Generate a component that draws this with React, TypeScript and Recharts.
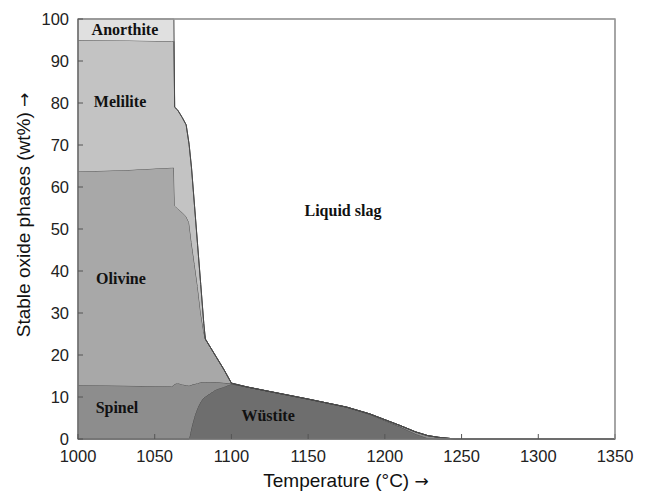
import {
  AreaChart,
  Area,
  XAxis,
  YAxis,
  ReferenceDot,
  ReferenceArea,
} from "recharts";

// temperature grid (°C)
const temps = [
  1000, 1030, 1061, 1062.5, 1063, 1065, 1068, 1070.5, 1072.4, 1074, 1076, 1078,
  1080, 1082, 1083, 1090, 1095, 1100, 1110, 1125, 1150, 1175, 1190, 1200, 1210,
  1220, 1228, 1235, 1246, 1350,
];

// wt% of each stable oxide phase at the temperatures above
const wustite = [
  0, 0, 0, 0, 0, 0, 0, 0, 0, 2.8, 5.5, 7.5, 8.9, 9.8, 10.1, 11.8, 12.4, 13.1,
  12.4, 11.3, 9.5, 7.6, 5.9, 4.4, 2.9, 1.2, 0.2, 0, 0, 0,
];
const spinel = [
  12.8, 12.7, 12.5, 12.9, 13.1, 13.3, 13.0, 12.8, 12.7, 10.1, 7.6, 5.8, 4.6, 3.8,
  3.5, 1.7, 1.0, 0.1, 0, 0, 0, 0, 0.1, 0.2, 0.3, 0.5, 0.6, 0.4, 0, 0,
];
const olivine = [
  50.9, 51.3, 52.1, 51.7, 42.4, 41.6, 40.9, 40.2, 38.8, 33.9, 28.5, 23.0, 16.5,
  11.9, 10.2, 6.1, 3.2, 0.1, 0, 0, 0, 0, 0, 0, 0, 0, 0, 0, 0, 0,
];
const melilite = [
  31.3, 30.9, 30.1, 30.1, 23.5, 23.4, 22.6, 21.8, 18.7, 17.7, 13.7, 9.7, 6.8,
  2.0, 0, 0, 0, 0, 0, 0, 0, 0, 0, 0, 0, 0, 0, 0, 0, 0,
];
const anorthite = [
  5.0, 5.1, 5.3, 5.3, 0, 0, 0, 0, 0, 0, 0, 0, 0, 0, 0, 0, 0, 0, 0, 0, 0, 0, 0,
  0, 0, 0, 0, 0, 0, 0,
];

const xTicks = [1000, 1050, 1100, 1150, 1200, 1250, 1300, 1350];
const yTicks = [0, 10, 20, 30, 40, 50, 60, 70, 80, 90, 100];

const data = temps.map((t, i) => ({
  t,
  wustite: wustite[i],
  spinel: spinel[i],
  olivine: olivine[i],
  melilite: melilite[i],
  anorthite: anorthite[i],
}));

const sans = "'Liberation Sans', Arial, sans-serif";
const serif = "'Liberation Serif', 'Times New Roman', serif";
const arrowFont = "'DejaVu Sans', sans-serif";
const edge = "#4a4a4a";

const phaseLabel = (value: string) => ({
  value,
  position: "center" as const,
  fill: "#111",
  fontSize: 16,
  fontWeight: 700,
  fontFamily: serif,
});

const labels = [
  { name: "Anorthite", x: 1030.6, y: 97.6 },
  { name: "Melilite", x: 1027.4, y: 80.5 },
  { name: "Olivine", x: 1028, y: 38.2 },
  { name: "Spinel", x: 1025.4, y: 7.6 },
  { name: "Wüstite", x: 1123.9, y: 5.7 },
  { name: "Liquid slag", x: 1172.7, y: 54.4 },
];

export default function App() {
  return (
    <div style={{ position: "absolute", left: 0, top: 0, background: "#fff" }}>
      <AreaChart
        width={649}
        height={491}
        data={data}
        margin={{ top: 18, right: 33, bottom: 0, left: 30 }}
      >
        <XAxis
          dataKey="t"
          type="number"
          domain={[1000, 1350]}
          ticks={xTicks}
          allowDataOverflow
          height={52}
          tickSize={-5}
          tickMargin={16}
          stroke="#555"
          tick={{ fill: "#222", fontSize: 16.5, fontFamily: sans }}
          label={() => (
            <text
              x={346}
              y={487}
              textAnchor="middle"
              fill="#111"
              fontSize={19}
              fontFamily={sans}
            >
              Temperature (°C){" "}
              <tspan fontFamily={arrowFont} fontSize={17}>
                →
              </tspan>
            </text>
          )}
        />
        <XAxis
          xAxisId="top"
          orientation="top"
          type="number"
          dataKey="t"
          domain={[1000, 1350]}
          ticks={xTicks}
          height={1}
          tickSize={-4}
          tick={false}
          stroke="#999"
        />
        <YAxis
          type="number"
          domain={[0, 100]}
          ticks={yTicks}
          width={48}
          tickSize={-5}
          tickMargin={14}
          stroke="#555"
          tick={{ fill: "#222", fontSize: 16.5, fontFamily: sans }}
          label={() => (
            <text
              x={0}
              y={0}
              transform="translate(30 215) rotate(-90)"
              textAnchor="middle"
              fill="#111"
              fontSize={19}
              fontFamily={sans}
            >
              Stable oxide phases (wt%){" "}
              <tspan fontFamily={arrowFont} fontSize={17}>
                →
              </tspan>
            </text>
          )}
        />
        <YAxis
          yAxisId="right"
          orientation="right"
          type="number"
          domain={[0, 100]}
          ticks={yTicks}
          width={1}
          tickSize={-4}
          tick={false}
          stroke="#999"
        />
        <Area
          dataKey="wustite"
          stackId="1"
          type="linear"
          fill="#6e6e6e"
          fillOpacity={1}
          stroke={edge}
          isAnimationActive={false}
        />
        <Area
          dataKey="spinel"
          stackId="1"
          type="linear"
          fill="#8d8d8d"
          fillOpacity={1}
          stroke={edge}
          isAnimationActive={false}
        />
        <Area
          dataKey="olivine"
          stackId="1"
          type="linear"
          fill="#a8a8a8"
          fillOpacity={1}
          stroke={edge}
          isAnimationActive={false}
        />
        <Area
          dataKey="melilite"
          stackId="1"
          type="linear"
          fill="#c3c3c3"
          fillOpacity={1}
          stroke={edge}
          isAnimationActive={false}
        />
        <Area
          dataKey="anorthite"
          stackId="1"
          type="linear"
          fill="#e0e0e0"
          fillOpacity={1}
          stroke={edge}
          isAnimationActive={false}
        />
        <ReferenceArea
          x1={1000}
          x2={1350}
          y1={0}
          y2={100}
          fill="none"
          fillOpacity={0}
          stroke="#999"
          strokeWidth={1.5}
        />
        {labels.map((l) => (
          <ReferenceDot
            key={l.name}
            x={l.x}
            y={l.y}
            r={0}
            fill="none"
            stroke="none"
            label={phaseLabel(l.name)}
          />
        ))}
      </AreaChart>
    </div>
  );
}
